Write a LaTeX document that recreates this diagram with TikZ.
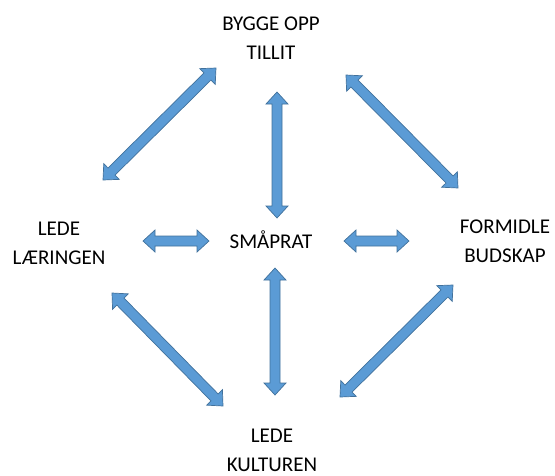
\documentclass[tikz,border=0pt]{standalone}
\usepackage{fontspec}
\setmainfont{Carlito}
\usetikzlibrary{calc}

\definecolor{pilblaa}{HTML}{5B9BD5}
\definecolor{pilkant}{HTML}{41719C}

\tikzset{
  ord/.style={font=\fontsize{21}{29}\selectfont, align=center, inner sep=0pt},
  blokkpil/.style={fill=pilblaa, draw=pilkant, line width=0.7pt, line join=miter}
}

% dobbel blokkpil mellom to punkter
\newcommand{\dobbelpil}[2]{%
  \draw[blokkpil] (#1)
    -- ($ ($(#1)!12pt!(#2)$)!11pt!90:(#2) $)
    -- ($ ($(#1)!12pt!(#2)$)!5pt!90:(#2) $)
    -- ($ ($(#2)!12pt!(#1)$)!5pt!-90:(#1) $)
    -- ($ ($(#2)!12pt!(#1)$)!11pt!-90:(#1) $)
    -- (#2)
    -- ($ ($(#2)!12pt!(#1)$)!11pt!90:(#1) $)
    -- ($ ($(#2)!12pt!(#1)$)!5pt!90:(#1) $)
    -- ($ ($(#1)!12pt!(#2)$)!5pt!-90:(#2) $)
    -- ($ ($(#1)!12pt!(#2)$)!11pt!-90:(#2) $)
    -- cycle;}

\begin{document}
\begin{tikzpicture}[x=1pt, y=-1pt]
        \useasboundingbox (0,0) rectangle (555,475);

        % Tekster
        \node[ord] (tillit) at (271,38) {BYGGE OPP\\TILLIT};
        \node[ord] (laering) at (59,243) {LEDE\\LÆRINGEN};
        \node[ord] (smaprat) at (271,240) {SMÅPRAT};
        \node[ord] (budskap) at (505,241) {FORMIDLE\\BUDSKAP};
        \node[ord] (kultur) at (272,450) {LEDE\\KULTUREN};

        % Endepunkter for pilene
        \coordinate (tl1) at (103,180);
        \coordinate (tl2) at (216,68);
        \coordinate (tr1) at (346,75);
        \coordinate (tr2) at (458,188);
        \coordinate (bl1) at (112,293);
        \coordinate (bl2) at (223,406);
        \coordinate (br1) at (340,397);
        \coordinate (br2) at (453,285);
        \coordinate (vt1) at (277,92);
        \coordinate (vt2) at (277,218);
        \coordinate (vb1) at (275,268);
        \coordinate (vb2) at (275,395);
        \coordinate (hl1) at (143,241);
        \coordinate (hl2) at (209,241);
        \coordinate (hr1) at (344,241);
        \coordinate (hr2) at (409,241);

        % Piler
        \dobbelpil{tl1}{tl2}
        \dobbelpil{tr1}{tr2}
        \dobbelpil{bl1}{bl2}
        \dobbelpil{br1}{br2}
        \dobbelpil{vt1}{vt2}
        \dobbelpil{vb1}{vb2}
        \dobbelpil{hl1}{hl2}
        \dobbelpil{hr1}{hr2}
    \end{tikzpicture}
\end{document}
